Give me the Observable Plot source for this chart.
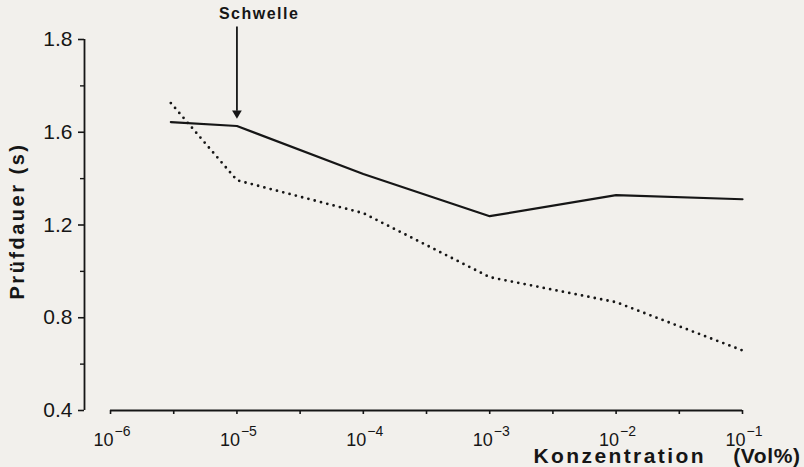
<!DOCTYPE html>
<html>
<head>
<meta charset="utf-8">
<script src="https://cdn.jsdelivr.net/npm/d3@7"></script>
<script src="https://cdn.jsdelivr.net/npm/@observablehq/plot@0.6"></script>
<style>
  html, body { margin: 0; padding: 0; background: #f2f0ec; }
  #chart { width: 804px; height: 467px; }
</style>
</head>
<body>
<div id="chart"></div>
<script>
// ---- data ----
const concentrations = [3e-6, 1e-5, 1e-4, 1e-3, 1e-2, 1e-1];
const solidSeries  = [1.644, 1.627, 1.42, 1.238, 1.329, 1.311];
const dottedSeries = [1.726, 1.393, 1.251, 0.975, 0.867, 0.659];

const xTicks = [1e-6, 1e-5, 1e-4, 1e-3, 1e-2, 1e-1];
const xTickBase = ["10", "10", "10", "10", "10", "10"];
const xTickExp = ["−6", "−5", "−4", "−3", "−2", "−1"];
const xMinorTicks = [3.162e-6, 3.162e-5, 3.162e-4, 3.162e-3, 3.162e-2];

const yTicks = [0.4, 0.8, 1.2, 1.6, 2.0];
const yTickLabels = ["0.4", "0.8", "1.2", "1.6", "1.8"];
const yMinorTicks = [0.6, 1.0, 1.4, 1.8];

const annotationText = ["Schwelle"];
const annotationX = 1e-5;
const annotationYTop = 2.054;
const annotationYTip = 1.665;

const yLabel = "Prüfdauer (s)";
const xLabel = "Konzentration";
const xUnit = "(Vol%)";

// ---- tables ----
const solid = concentrations.map((c, i) => ({c, v: solidSeries[i]}));
const dotted = concentrations.map((c, i) => ({c, v: dottedSeries[i]}));
const yTickTable = yTicks.map((v, i) => ({v, label: yTickLabels[i]}));
const xTickTable = xTicks.map((c, i) => ({c, base: xTickBase[i], exp: xTickExp[i]}));

const xmin = 10 ** -6.206, xmax = 1e-1;
const ink = "#161616";
const font = "Liberation Sans, Arial, Helvetica, sans-serif";

const chart = Plot.plot({
  width: 804,
  height: 467,
  marginLeft: 84,
  marginRight: 62,
  marginTop: 39,
  marginBottom: 57,
  x: {type: "log", domain: [xmin, xmax], axis: null},
  y: {domain: [0.4, 2.0], axis: null},
  style: {background: "transparent", fontFamily: font, color: ink, overflow: "visible"},
  marks: [
    // y axis line
    Plot.ruleX([xmin], {y1: 0.4, y2: 2.0, stroke: ink, strokeWidth: 1.8}),
    // y major ticks
    Plot.ruleY(yTicks, {y: d => d, x1: xmin, x2: xmin, insetLeft: -6, stroke: ink, strokeWidth: 1.6}),
    // y minor ticks
    Plot.ruleY(yMinorTicks, {y: d => d, x1: xmin, x2: xmin, insetLeft: -4, stroke: ink, strokeWidth: 1.4}),
    // y tick labels
    Plot.text(yTickTable, {y: "v", x: xmin, text: "label", textAnchor: "end", dx: -12, fontSize: 21, fill: ink}),
    // x axis line
    Plot.ruleY([0.4], {x1: xTicks[0], x2: xTicks[xTicks.length - 1], stroke: ink, strokeWidth: 1.8}),
    // x major ticks
    Plot.ruleX(xTicks, {x: d => d, y1: 0.4, y2: 0.4, insetBottom: -4, stroke: ink, strokeWidth: 1.6}),
    // x minor ticks
    Plot.ruleX(xMinorTicks, {x: d => d, y1: 0.4, y2: 0.4, insetBottom: -4, stroke: ink, strokeWidth: 1.6}),
    // x tick labels: base and exponent
    Plot.text(xTickTable, {x: "c", y: 0.4, text: "base", textAnchor: "end", lineAnchor: "bottom", dx: 3, dy: 35, fontSize: 18, fill: ink}),
    Plot.text(xTickTable, {x: "c", y: 0.4, text: "exp", textAnchor: "start", lineAnchor: "bottom", dx: 4, dy: 25, fontSize: 14, fill: ink}),
    // series
    Plot.line(solid, {x: "c", y: "v", stroke: ink, strokeWidth: 2.2, strokeLinejoin: "round"}),
    Plot.line(dotted, {x: "c", y: "v", stroke: ink, strokeWidth: 2.8, strokeDasharray: "0 6.5", strokeLinecap: "round"}),
    // annotation
    Plot.ruleX([annotationX], {y1: annotationYTop, y2: annotationYTip, insetBottom: 6, stroke: ink, strokeWidth: 1.8}),
    Plot.dot([annotationX], {x: d => d, y: annotationYTip, symbol: "triangle", r: 3.6, rotate: 180, dy: -4, fill: ink, stroke: "none"}),
    Plot.text(annotationText, {x: annotationX, frameAnchor: "top", text: d => d, textAnchor: "start", lineAnchor: "bottom", dx: -18, dy: -21, fontSize: 16, fontWeight: "bold", fill: ink}),
    // axis titles
    Plot.text([yLabel], {frameAnchor: "left", text: d => d, rotate: -90, textAnchor: "middle", lineAnchor: "bottom", dx: -61, dy: -4, fontSize: 20, fontWeight: "bold", fill: ink}),
    Plot.text([xLabel], {frameAnchor: "bottom-right", text: d => d, textAnchor: "start", lineAnchor: "bottom", dx: -209, dy: 52, fontSize: 21, fontWeight: "bold", fill: ink}),
    Plot.text([xUnit], {frameAnchor: "bottom-right", text: d => d, textAnchor: "end", lineAnchor: "bottom", dx: 58, dy: 52, fontSize: 21, fontWeight: "bold", fill: ink})
  ]
});

document.getElementById("chart").appendChild(chart);

// letter spacing for bold titles, as in the reference
const spacing = new Map([[yLabel, "2.5px"], [xLabel, "2.4px"], [xUnit, "0.6px"], [annotationText[0], "1.5px"]]);
d3.select(chart).selectAll("text").each(function () {
  const s = spacing.get(this.textContent);
  if (s) this.style.letterSpacing = s;
});
</script>
</body>
</html>
